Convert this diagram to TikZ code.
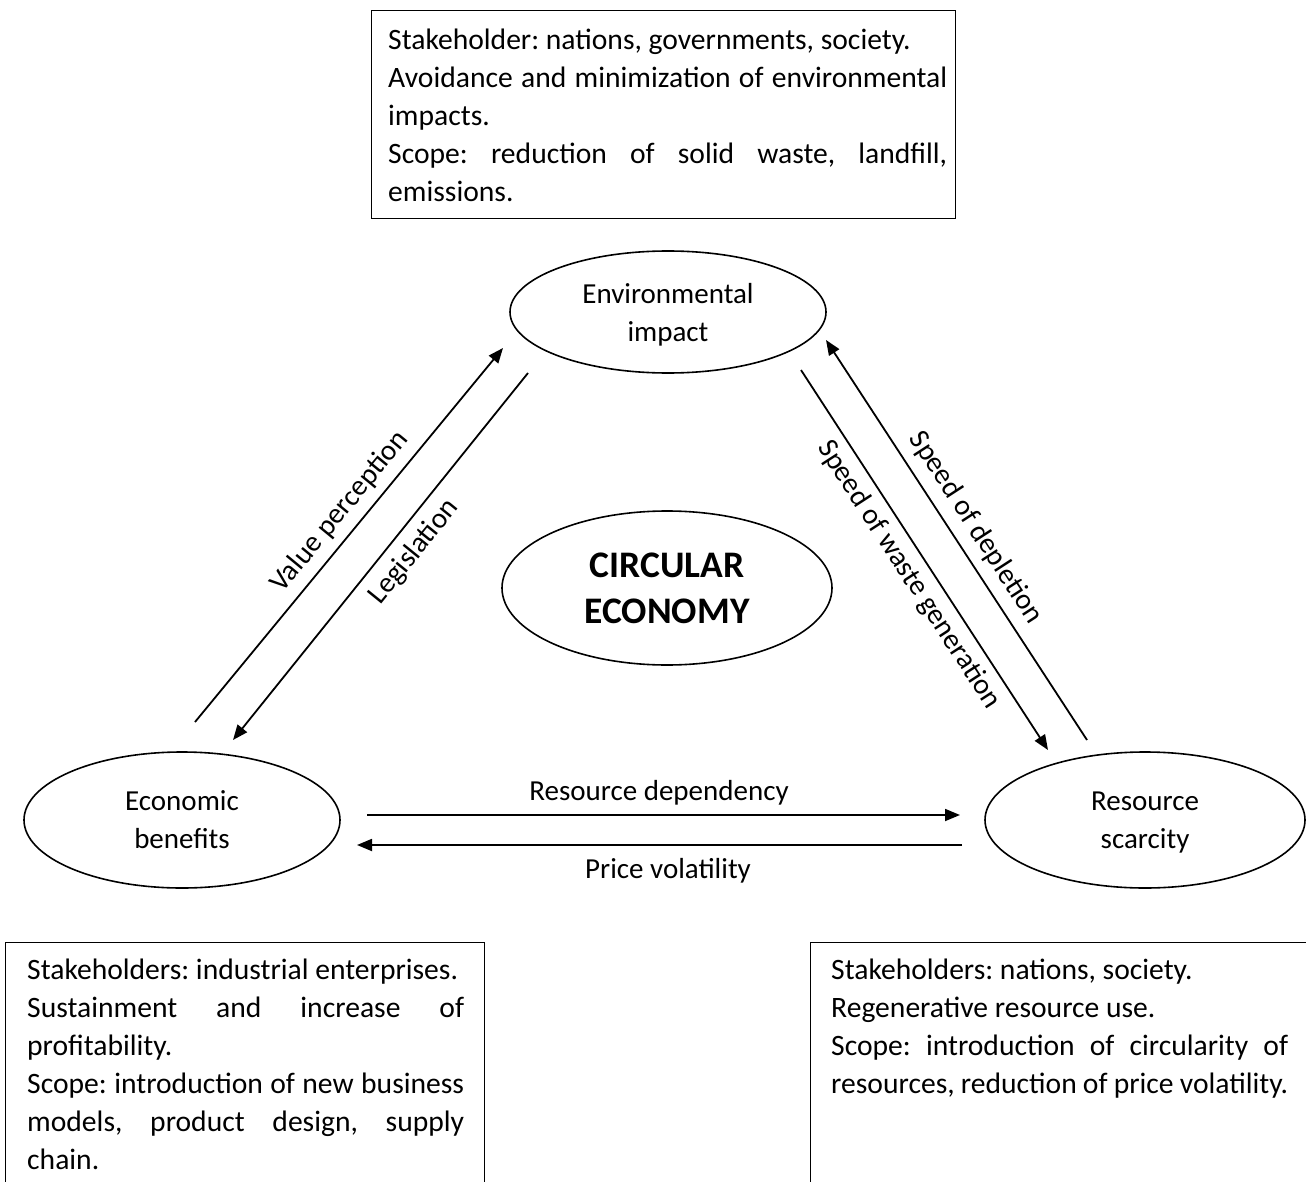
\documentclass[tikz,border=0pt]{standalone}
\usepackage{fontspec}
\setmainfont{Carlito}
\usetikzlibrary{arrows.meta,shapes.geometric}
% a justified line of a text block
\newcommand\jline[1]{\makebox[\linewidth][s]{#1}}
\begin{document}
\frenchspacing
\begin{tikzpicture}[x=1pt,y=-1pt,
  bubble/.style={draw, ellipse, line width=1.6pt, inner sep=0pt, align=center,
                 text depth=0pt, font=\fontsize{29}{38}\selectfont},
  infobox/.style={draw, line width=1.1pt, rectangle, inner sep=0pt, anchor=north west},
  boxtext/.style={anchor=base west, inner sep=0pt, font=\fontsize{29.6}{38}\selectfont},
  flow/.style={-{Triangle[length=15pt,width=12pt]}, line width=1.8pt},
  lbl/.style={font=\fontsize{29}{35}\selectfont, inner sep=0pt},
]
\useasboundingbox (0,0) rectangle (1306,1182);

% ---- information boxes ----
\node[infobox, minimum width=584pt, minimum height=208pt] (envbox) at (371,10) {};
\node[boxtext] (envtext) at (388,50) {\parbox[t]{559pt}{%
  Stakeholder: nations, governments, society.\\
  \jline{Avoidance and minimization of environmental}\\
  impacts.\\
  \jline{Scope: reduction of solid waste, landfill,}\\
  emissions.}};

\node[infobox, minimum width=479pt, minimum height=260pt] (ecobox) at (5,942) {};
\node[boxtext] (ecotext) at (27,979) {\parbox[t]{437pt}{%
  Stakeholders: industrial enterprises.\\
  \jline{Sustainment and increase of}\\
  profitability.\\
  \jline{Scope: introduction of new business}\\
  \jline{models, product design, supply}\\
  chain.}};

\node[infobox, minimum width=520pt, minimum height=260pt] (resbox) at (810,942) {};
\node[boxtext] (restext) at (831,979) {\parbox[t]{457pt}{%
  Stakeholders: nations, society.\\
  Regenerative resource use.\\
  \jline{Scope: introduction of circularity of}\\
  \jline{resources, reduction of price volatility.}}};

% ---- ellipses ----
\node[bubble, minimum width=316pt, minimum height=122pt] (env) at (668,312) {Environmental\\impact};
\node[bubble, minimum width=330pt, minimum height=154pt,
      font=\fontsize{37.5}{46}\selectfont\bfseries] (ce) at (667,588) {CIRCULAR\\ECONOMY};
\node[bubble, minimum width=316pt, minimum height=136pt] (eco) at (182,820) {Economic\\benefits};
\node[bubble, minimum width=320pt, minimum height=136pt] (res) at (1145,820) {Resource\\scarcity};

% ---- connector end points ----
\coordinate (vpA) at (195,722);  \coordinate (vpB) at (503,348);
\coordinate (lgA) at (528,373);  \coordinate (lgB) at (233,740);
\coordinate (wgA) at (801,370);  \coordinate (wgB) at (1048,750);
\coordinate (sdA) at (1087,740); \coordinate (sdB) at (826,340);
\coordinate (rdA) at (367,815);  \coordinate (rdB) at (960,815);
\coordinate (pvA) at (962,845);  \coordinate (pvB) at (357,845);

\draw[flow] (vpA) -- (vpB);
\draw[flow] (lgA) -- (lgB);
\draw[flow] (wgA) -- (wgB);
\draw[flow] (sdA) -- (sdB);
\draw[flow] (rdA) -- (rdB);
\draw[flow] (pvA) -- (pvB);

% ---- connector labels ----
\node[lbl, rotate=50.5] (vpl) at (340,512) {Value perception};
\node[lbl, rotate=51] (lgl) at (414,552) {Legislation};
\node[lbl, rotate=-57] (wgl) at (909,575) {Speed of waste generation};
\node[lbl, rotate=-57] (sdl) at (976,528) {Speed of depletion};
\node[lbl] (rdl) at (659,793) {Resource dependency};
\node[lbl] (pvl) at (668,871) {Price volatility};
\end{tikzpicture}
\end{document}
